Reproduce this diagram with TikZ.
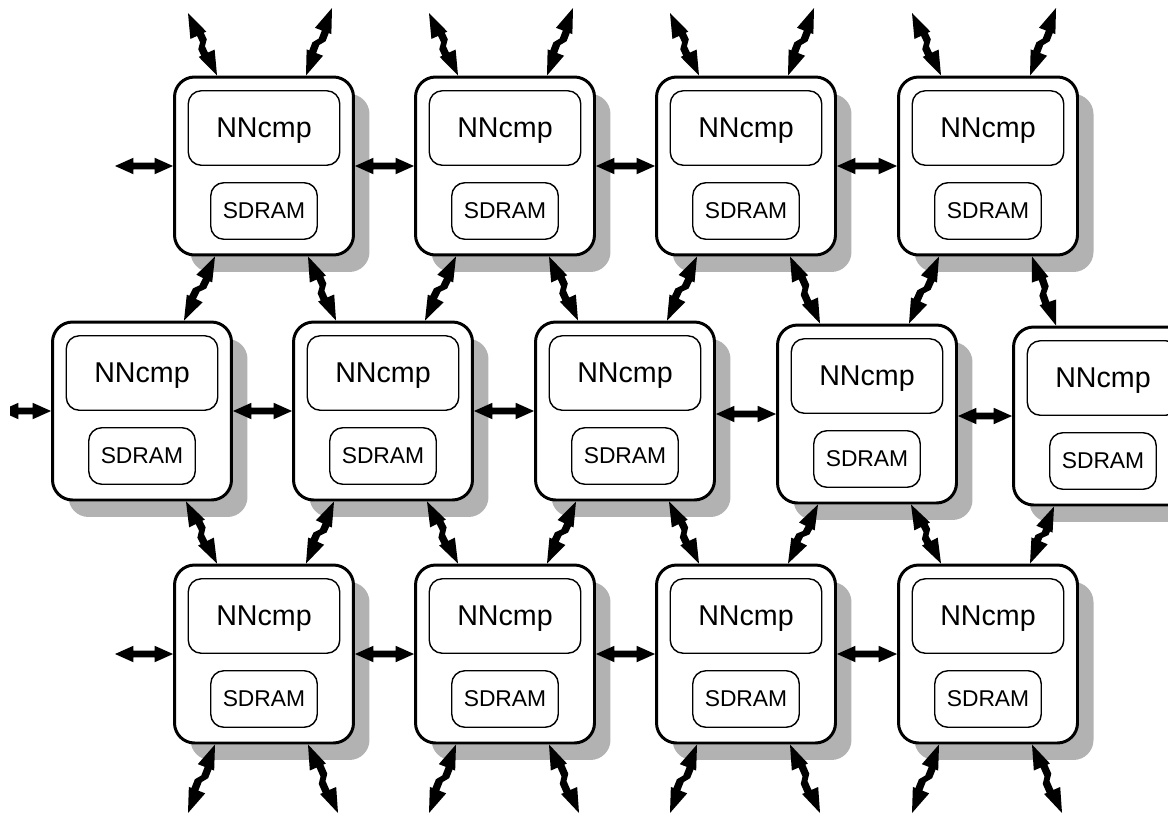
\documentclass[tikz,border=0pt]{standalone}
\usepackage{fontspec}
\setmainfont{Liberation Sans}
\usetikzlibrary{calc,shadows}
\tikzset{
  chip/.style={draw, line width=1.7pt, rounded corners=0.4cm, fill=white, minimum width=3.58cm, minimum height=3.56cm,
    drop shadow={shadow xshift=0.32cm, shadow yshift=-0.34cm, fill=black!30, opacity=1}},
  core/.style={draw, line width=0.8pt, rounded corners=0.26cm, minimum width=3.03cm, minimum height=1.49cm, text depth=0pt, font=\fontsize{16.3}{19}\selectfont},
  mem/.style={draw, line width=0.8pt, rounded corners=0.26cm, minimum width=2.13cm, minimum height=1.13cm, text depth=0pt, font=\fontsize{13}{16}\selectfont},
  % double arrow with a step in its shaft, h = head length, w = half head width, a = half shaft, j = step
  bolt/.style n args={4}{fill, to path={
    -- ($(\tikztostart)!#1!(\tikztotarget)!#2!90:(\tikztotarget)$)
    -- ($(\tikztostart)!#1!(\tikztotarget)!#3+#4!90:(\tikztotarget)$)
    -- ($(\tikztostart)!0.46!(\tikztotarget)!#3+#4!90:(\tikztotarget)$)
    -- ($(\tikztostart)!0.54!(\tikztotarget)!#3-#4!90:(\tikztotarget)$)
    -- ($(\tikztotarget)!#1!(\tikztostart)!#3-#4!-90:(\tikztostart)$)
    -- ($(\tikztotarget)!#1!(\tikztostart)!#2!-90:(\tikztostart)$)
    -- (\tikztotarget)
    -- ($(\tikztotarget)!#1!(\tikztostart)!#2!90:(\tikztostart)$)
    -- ($(\tikztotarget)!#1!(\tikztostart)!#3+#4!90:(\tikztostart)$)
    -- ($(\tikztostart)!0.54!(\tikztotarget)!#3+#4!-90:(\tikztotarget)$)
    -- ($(\tikztostart)!0.46!(\tikztotarget)!#3-#4!-90:(\tikztotarget)$)
    -- ($(\tikztostart)!#1!(\tikztotarget)!#3-#4!-90:(\tikztotarget)$)
    -- ($(\tikztostart)!#1!(\tikztotarget)!#2!-90:(\tikztotarget)$)
    -- cycle}},
  zig/.style={bolt={14pt}{5pt}{2.1pt}{1.3pt}},
  hlink/.style={bolt={10.5pt}{4.7pt}{1.9pt}{0pt}}
}
\begin{document}
\begin{tikzpicture}[x=0.02cm, y=-0.02cm]
  \useasboundingbox (0,0) rectangle (1168,815);
  \foreach \n/\x/\y in {t1/264/166, t2/505/166, t3/746/166, t4/988/166,
      m1/142/411, m2/383/411, m3/625/411, m4/867/414, m5/1103/416,
      b1/264/654, b2/505/654, b3/746/654, b4/988/654}{
    \node[chip] (\n) at (\x,\y) {};
    \node[core] (\n-c) at ([yshift=0.76cm]\n.center) {NNcmp};
    \node[mem] (\n-m) at ([yshift=-0.9cm]\n.center) {SDRAM};
    \coordinate (\n-nw) at ([xshift=-0.94cm]\n.north);
    \coordinate (\n-ne) at ([xshift=0.84cm]\n.north);
    \coordinate (\n-sw) at ([xshift=-0.98cm]\n.south);
    \coordinate (\n-se) at ([xshift=0.88cm]\n.south);
  }
  \foreach \i/\x in {1/264, 2/505, 3/746, 4/988}{
    \coordinate (up-\i-l) at (\x-76,13);
    \coordinate (up-\i-r) at (\x+68,8);
    \coordinate (dn-\i-l) at (\x-76,813);
    \coordinate (dn-\i-r) at (\x+74,813);
    \fill[zig] (t\i-nw) to (up-\i-l);
    \fill[zig] (t\i-ne) to (up-\i-r);
    \fill[zig] (b\i-sw) to (dn-\i-l);
    \fill[zig] (b\i-se) to (dn-\i-r);
  }
  \foreach \i [evaluate=\i as \j using int(\i+1)] in {1,...,4}{
    \fill[zig] (t\i-sw) to (m\i-ne);
    \fill[zig] (t\i-se) to (m\j-nw);
    \fill[zig] (m\i-se) to (b\i-nw);
    \fill[zig] (m\j-sw) to (b\i-ne);
    \fill[hlink] (m\j.west -| m\i.east) to (m\j.west);
  }
  \foreach \i [evaluate=\i as \j using int(\i+1)] in {1,...,3}{
    \fill[hlink] (t\i.east) to (t\j.west);
    \fill[hlink] (b\i.east) to (b\j.west);
  }
  \coordinate (west-t) at (115,166);
  \coordinate (west-b) at (115,654);
  \coordinate (west-m) at (0,411);
  \fill[hlink] (west-t) to (t1.west);
  \fill[hlink] (west-b) to (b1.west);
  \begin{scope}
    \clip (10,0) rectangle (1168,815);
    \fill[hlink] (west-m) to (m1.west);
  \end{scope}
\end{tikzpicture}
\end{document}
